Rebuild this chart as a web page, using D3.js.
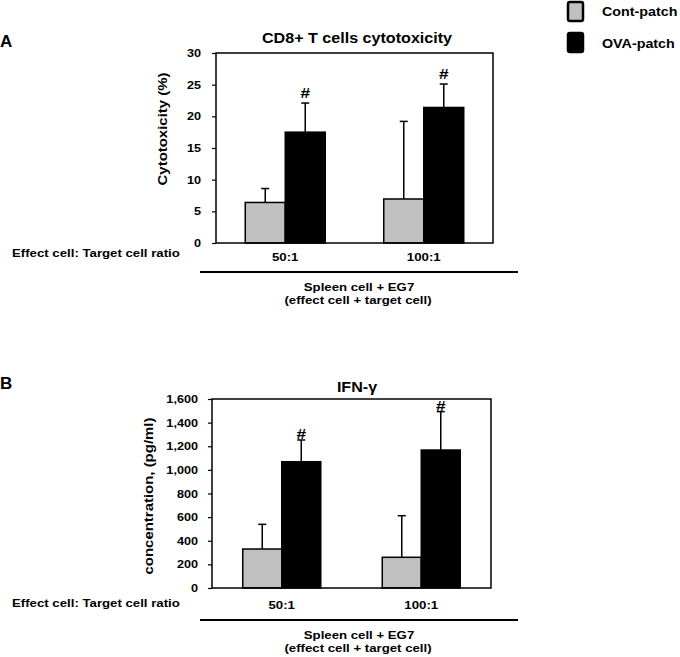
<!DOCTYPE html>
<html>
<head>
<meta charset="utf-8">
<script src="https://cdn.jsdelivr.net/npm/d3@7"></script>
<style>
  html, body { margin: 0; padding: 0; background: #fff; }
  svg { display: block; font-family: "Liberation Sans", Arial, sans-serif; font-weight: bold; }
</style>
</head>
<body>
<svg id="chart" width="680" height="657"></svg>
<script>
// ---- data ----
const categories = ["50:1", "100:1"];
const seriesNames = ["Cont-patch", "OVA-patch"];
const seriesColors = ["#c0c0c0", "#000000"];

const cytoCont = [6.4, 6.95];
const cytoContErr = [2.2, 12.25];
const cytoOva = [17.5, 21.4];
const cytoOvaErr = [4.6, 3.7];
const cytoTicks = [0, 5, 10, 15, 20, 25, 30];

const ifnCont = [330, 260];
const ifnContErr = [209, 352];
const ifnOva = [1069, 1168];
const ifnOvaErr = [184, 325];
const ifnTicks = [0, 200, 400, 600, 800, 1000, 1200, 1400, 1600];

const xGroupLabel = "Effect cell: Target cell ratio";
const bottomLine1 = "Spleen cell + EG7";
const bottomLine2 = "(effect cell + target cell)";

const SX = 1.15; // horizontal stretch of the original typography

const svg = d3.select("#chart");

function stretchedText(g, x, y, str, size, anchor, sx) {
  return g.append("text")
    .attr("transform", `translate(${x},${y}) scale(${sx || SX},1)`)
    .attr("text-anchor", anchor || "start")
    .attr("font-size", size)
    .text(str);
}

function panel(opt) {
  const g = svg.append("g");
  const x = d3.scaleBand().domain(categories).range([opt.left, opt.right]);
  const xs = d3.scaleBand().domain(seriesNames).range([-opt.barW, opt.barW]);
  const y = d3.scaleLinear().domain([0, d3.max(opt.ticks)]).range([opt.bottom, opt.top]);

  const rows = [];
  categories.forEach((c, i) => {
    rows.push({cat: c, s: seriesNames[0], v: opt.cont[i], e: opt.contErr[i], sig: false, color: seriesColors[0]});
    rows.push({cat: c, s: seriesNames[1], v: opt.ova[i], e: opt.ovaErr[i], sig: true, color: seriesColors[1]});
  });
  const bx = d => x(d.cat) + x.bandwidth() / 2 + xs(d.s);
  const cx = d => bx(d) + xs.bandwidth() / 2;

  // error bars (upper only)
  const eg = g.append("g").attr("stroke", "#000").attr("stroke-width", 1.5);
  eg.selectAll("line.v").data(rows).join("line")
    .attr("x1", cx).attr("x2", cx)
    .attr("y1", d => y(d.v)).attr("y2", d => y(d.v + d.e));
  eg.selectAll("line.c").data(rows).join("line")
    .attr("x1", d => cx(d) - 4).attr("x2", d => cx(d) + 4)
    .attr("y1", d => y(d.v + d.e)).attr("y2", d => y(d.v + d.e));

  // bars
  g.append("g").selectAll("rect").data(rows).join("rect")
    .attr("x", bx).attr("width", xs.bandwidth())
    .attr("y", d => y(d.v)).attr("height", d => y(0) - y(d.v))
    .attr("fill", d => d.color).attr("stroke", "#000").attr("stroke-width", 1.5);

  // significance marks
  rows.filter(d => d.sig).forEach(d => {
    stretchedText(g, cx(d), y(d.v + d.e) - opt.hashGap, "#", 15, "middle");
  });

  // frame
  g.append("rect")
    .attr("x", opt.left).attr("y", opt.top)
    .attr("width", opt.right - opt.left).attr("height", opt.bottom - opt.top)
    .attr("fill", "none").attr("stroke", "#000").attr("stroke-width", 1.5);

  // y axis
  const ax = g.append("g").attr("transform", `translate(${opt.left},0)`)
    .call(d3.axisLeft(y).tickValues(opt.ticks).tickSize(4).tickPadding(0).tickFormat(d3.format(",")));
  ax.select(".domain").remove();
  ax.selectAll(".tick line").attr("stroke-width", 1.2);
  ax.selectAll(".tick text")
    .attr("font-size", 11).attr("font-family", "Liberation Sans, Arial, sans-serif").attr("font-weight", "bold")
    .attr("fill", "#000")
    .attr("x", 0)
    .attr("transform", `translate(${-opt.labelGap},0) scale(${SX},1)`);

  // y axis title
  g.append("text")
    .attr("transform", `translate(${opt.yTitleX},${opt.yTitleY}) rotate(-90) scale(${SX},1)`)
    .attr("text-anchor", "middle").attr("font-size", 13)
    .text(opt.yTitle);

  // chart title
  stretchedText(g, opt.titleX, opt.titleY, opt.title, 14, "middle");

  // panel letter
  g.append("text").attr("x", 0).attr("y", opt.letterY).attr("font-size", 17).text(opt.letter);

  // category labels
  categories.forEach(c => {
    stretchedText(g, x(c) + x.bandwidth() / 2, opt.catY, c, 11.5, "middle");
  });
  stretchedText(g, 12, opt.groupY, xGroupLabel, 11.5, "start");

  // bottom rule and descriptor
  g.append("line").attr("x1", 200).attr("x2", 518)
    .attr("y1", opt.ruleY).attr("y2", opt.ruleY)
    .attr("stroke", "#000").attr("stroke-width", 2);
  stretchedText(g, 359, opt.ruleY + 19, bottomLine1, 11.5, "middle");
  stretchedText(g, 358, opt.ruleY + 32, bottomLine2, 11.5, "middle");
}

panel({
  letter: "A", letterY: 47,
  title: "CD8+ T cells cytotoxicity", titleX: 357, titleY: 43,
  left: 216, right: 493, top: 53, bottom: 243, barW: 40,
  ticks: cytoTicks, cont: cytoCont, contErr: cytoContErr, ova: cytoOva, ovaErr: cytoOvaErr,
  yTitle: "Cytotoxicity (%)", yTitleX: 167, yTitleY: 129, labelGap: 15, hashGap: 5,
  catY: 261, groupY: 257, ruleY: 272
});

panel({
  letter: "B", letterY: 389,
  title: "IFN-\u03b3", titleX: 357, titleY: 392,
  left: 212, right: 491, top: 399, bottom: 588, barW: 39,
  ticks: ifnTicks, cont: ifnCont, contErr: ifnContErr, ova: ifnOva, ovaErr: ifnOvaErr,
  yTitle: "concentration, (pg/ml)", yTitleX: 153, yTitleY: 496, labelGap: 14, hashGap: 1,
  catY: 609, groupY: 607, ruleY: 620
});

// legend
const leg = svg.append("g");
seriesNames.forEach((s, i) => {
  leg.append("rect")
    .attr("x", 568).attr("y", 2 + i * 31).attr("width", 15).attr("height", 19)
    .attr("rx", 2)
    .attr("fill", seriesColors[i]).attr("stroke", "#000").attr("stroke-width", 2.5);
  leg.append("text")
    .attr("transform", `translate(602,${16 + i * 32}) scale(1.1,1)`)
    .attr("font-size", 13).text(s);
});
</script>
</body>
</html>
